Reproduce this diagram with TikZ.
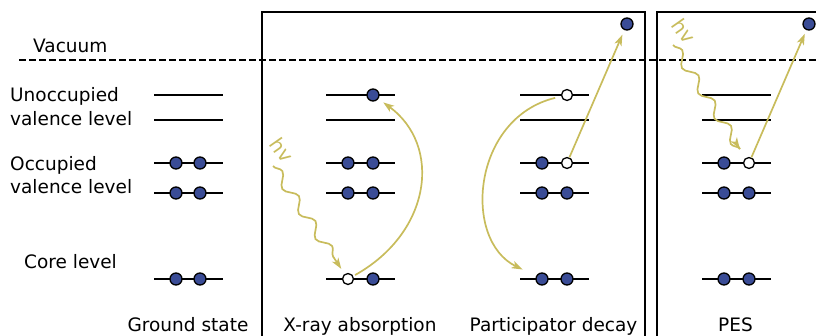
\documentclass[tikz,border=0pt]{standalone}
\usepackage{fontspec}
\setmainfont{DejaVu Sans}
\usetikzlibrary{arrows.meta,decorations.pathmorphing}
\definecolor{photon}{RGB}{200,188,92}
\definecolor{electron}{RGB}{58,76,150}
\begin{document}
\begin{tikzpicture}[x=1pt,y=-1pt,
  elec/.style={circle,draw=black,fill=electron,line width=1.3pt,minimum size=12pt,inner sep=0pt},
  hole/.style={circle,draw=black,fill=white,line width=1.3pt,minimum size=11pt,inner sep=0pt},
  levelline/.style={line width=1.8pt},
  frame/.style={line width=1.5pt},
  transfer/.style={draw=photon,line width=1.7pt,-{Stealth[length=11pt,width=7.5pt,inset=3pt]}},
  photonwave/.style={transfer,decorate,decoration={snake,segment length=30pt,amplitude=5pt,post length=9pt}},
  lbl/.style={font=\fontsize{18.5}{22}\selectfont,inner sep=0pt},
  hvlbl/.style={font=\fontsize{20}{24}\selectfont,inner sep=0pt,text=photon,rotate=-55}]
\useasboundingbox (0,0) rectangle (816,335);
\clip (0,0) rectangle (816,335);

% panel frames
\draw[frame] (262,345) |- (645,12) -- (645,345);
\draw[frame] (657,345) |- (830,12);

% vacuum level
\draw[line width=1.4pt,dash pattern=on 6.5pt off 3.5pt] (19,60) -- (816,60);
\node[lbl,anchor=base west] (vac) at (33,52) {Vacuum};

% level labels
\node[lbl,anchor=base west] (unocc1) at (10,101) {Unoccupied};
\node[lbl,anchor=base west] (unocc2) at (10,125) {valence level};
\node[lbl,anchor=base west] (occ1) at (10,170) {Occupied};
\node[lbl,anchor=base west] (occ2) at (10,193) {valence level};
\node[lbl,anchor=base west] (core) at (24,268) {Core level};

% energy levels of the four columns
\foreach \x in {154,326,520,702}{
  \foreach \y in {95,120,163,193,279}{
    \draw[levelline] (\x,\y) -- ++(69,0);
  }
}

% ground state
\node[elec] (g-o1a) at (176,163) {};
\node[elec] (g-o1b) at (200,163) {};
\node[elec] (g-o2a) at (176,193) {};
\node[elec] (g-o2b) at (200,193) {};
\node[elec] (g-ca) at (176,279) {};
\node[elec] (g-cb) at (200,279) {};

% X-ray absorption
\node[elec] (x-u1b) at (373,95) {};
\node[elec] (x-o1a) at (348,163) {};
\node[elec] (x-o1b) at (373,163) {};
\node[elec] (x-o2a) at (348,193) {};
\node[elec] (x-o2b) at (373,193) {};
\node[hole] (x-ca) at (348,279) {};
\node[elec] (x-cb) at (373,279) {};

% participator decay
\node[hole] (p-u1b) at (567,95) {};
\node[elec] (p-o1a) at (542,163) {};
\node[hole] (p-o1b) at (567,163) {};
\node[elec] (p-o2a) at (542,193) {};
\node[elec] (p-o2b) at (567,193) {};
\node[elec] (p-ca) at (542,279) {};
\node[elec] (p-cb) at (567,279) {};
\node[elec] (p-vac) at (627,24) {};

% photoemission
\node[elec] (e-o1a) at (724,163) {};
\node[hole] (e-o1b) at (749,163) {};
\node[elec] (e-o2a) at (724,193) {};
\node[elec] (e-o2b) at (749,193) {};
\node[elec] (e-ca) at (724,279) {};
\node[elec] (e-cb) at (749,279) {};
\node[elec] (e-vac) at (809,24) {};

% incoming photons
\coordinate (x-ph) at (273,166);
\coordinate (e-ph) at (673,45);
\draw[photonwave,shorten >=6pt] (x-ph) -- (x-ca);
\draw[photonwave,shorten >=11pt] (e-ph) -- (e-o1b);
\node[hvlbl] (x-hv) at (282,150) {hv};
\node[hvlbl] (e-hv) at (684,31) {hv};

% transitions
\draw[transfer,shorten <=2pt,shorten >=6pt] (x-ca) .. controls (432,232) and (442,145) .. (x-u1b);
\draw[transfer,shorten <=6pt,shorten >=15pt] (p-u1b) .. controls (472,118) and (462,240) .. (p-ca);
\draw[transfer,shorten >=5pt] (p-o1b) -- (p-vac);
\draw[transfer,shorten >=4pt] (e-o1b) -- (e-vac);

% column captions
\node[lbl,anchor=base] (cap-g) at (188,331) {Ground state};
\node[lbl,anchor=base] (cap-x) at (360,331) {X-ray absorption};
\node[lbl,anchor=base] (cap-p) at (553.5,331) {Participator decay};
\node[lbl,anchor=base] (cap-e) at (735.5,331) {PES};
\end{tikzpicture}
\end{document}
